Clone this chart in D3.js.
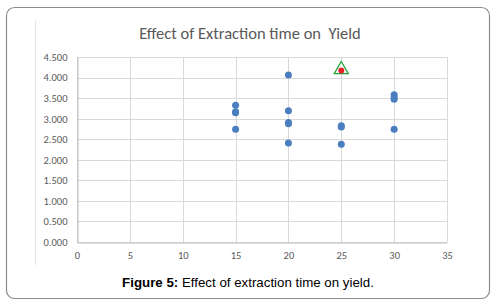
<!DOCTYPE html>
<html>
<head>
<meta charset="utf-8">
<script src="https://cdn.jsdelivr.net/npm/d3@7"></script>
<style>
  body { margin: 0; background: #fff; }
</style>
</head>
<body>
<svg id="drawing_region"></svg>
<script>
// extraction time (min) and yield readings
const times  = [15, 15, 15, 15, 20, 20, 20, 20, 20, 25, 25, 25, 30, 30, 30, 30];
const yields = [3.325, 3.17, 3.145, 2.74, 4.06, 3.19, 2.905, 2.875, 2.41, 2.83, 2.795, 2.38, 3.58, 3.53, 3.47, 2.74];
// highlighted optimum point
const bestTime = [25];
const bestYield = [4.17];
const xTicks = [0, 5, 10, 15, 20, 25, 30, 35];
const yTicks = [0, 0.5, 1, 1.5, 2, 2.5, 3, 3.5, 4, 4.5];

const W = 495, H = 306;
const margin = {left: 77, right: 48, top: 57, bottom: 64};

const svg = d3.select('#drawing_region')
    .attr('width', W)
    .attr('height', H);

// outer frame
svg.append('rect')
    .attr('x', 6.5).attr('y', 7.5)
    .attr('width', 483).attr('height', 291)
    .attr('rx', 8)
    .attr('fill', 'white')
    .attr('stroke', '#8c8c8c')
    .attr('stroke-width', 1.2);

// faint chart-area edge
svg.append('line')
    .attr('x1', 35.5).attr('x2', 35.5)
    .attr('y1', 20).attr('y2', 265)
    .attr('stroke', '#e4e4e4');

const x = d3.scaleLinear().domain([0, 35]).range([margin.left, W - margin.right]);
const y = d3.scaleLinear().domain([0, 4.5]).range([H - margin.bottom, margin.top]);

const grid = svg.append('g');
grid.selectAll('.hg')
    .data(yTicks)
    .enter()
    .append('line')
    .attr('x1', x(0)).attr('x2', x(35))
    .attr('y1', d => Math.round(y(d)) + 0.5)
    .attr('y2', d => Math.round(y(d)) + 0.5)
    .attr('stroke', '#d9d9d9');
grid.selectAll('.vg')
    .data(xTicks)
    .enter()
    .append('line')
    .attr('x1', d => Math.round(x(d)) + 0.5)
    .attr('x2', d => Math.round(x(d)) + 0.5)
    .attr('y1', y(4.5)).attr('y2', y(0))
    .attr('stroke', '#d9d9d9');

// axes
const xAxis = d3.axisBottom(x).tickValues(xTicks).tickSize(0).tickPadding(9);
const yAxis = d3.axisLeft(y).tickValues(yTicks).tickSize(0).tickPadding(10)
    .tickFormat(d3.format('.3f'));

const gx = svg.append('g')
    .attr('transform', `translate(0, ${Math.round(y(0)) + 0.5})`)
    .call(xAxis);
const gy = svg.append('g')
    .attr('transform', `translate(${Math.round(x(0)) + 0.5}, 0)`)
    .call(yAxis);

[gx, gy].forEach(g => {
    g.select('.domain').attr('stroke', '#bfbfbf');
    g.selectAll('text')
        .attr('fill', '#595959')
        .style('font-family', 'Carlito, Calibri, "Open Sans", sans-serif')
        .style('font-size', '10.5px');
});

// points
svg.selectAll('.pt')
    .data(times.map((t, i) => ({t: t, v: yields[i]})))
    .enter()
    .append('circle')
    .attr('cx', d => x(d.t))
    .attr('cy', d => y(d.v))
    .attr('r', 3.5)
    .attr('fill', '#4a7ebf');

// highlighted point with triangle marker
const best = bestTime.map((t, i) => ({t: t, v: bestYield[i]}));
svg.selectAll('.tri')
    .data(best)
    .enter()
    .append('path')
    .attr('d', d3.symbol().type(d3.symbolTriangle).size(85))
    .attr('transform', d => `translate(${x(d.t)}, ${y(d.v) - 1})`)
    .attr('fill', 'white')
    .attr('stroke', '#22a33a')
    .attr('stroke-width', 1.3);
svg.selectAll('.best')
    .data(best)
    .enter()
    .append('circle')
    .attr('cx', d => x(d.t))
    .attr('cy', d => y(d.v))
    .attr('r', 3)
    .attr('fill', '#e8212b');

// title
svg.append('text')
    .attr('x', 250).attr('y', 38.5)
    .attr('text-anchor', 'middle')
    .attr('fill', '#595959')
    .style('font-family', 'Carlito, Calibri, "Open Sans", sans-serif')
    .style('font-size', '16.5px')
    .style('white-space', 'pre')
    .text('Effect of Extraction time on  Yield');

// caption
const cap = svg.append('text')
    .attr('x', 248).attr('y', 286.5)
    .attr('text-anchor', 'middle')
    .attr('fill', '#000')
    .style('font-family', '"Liberation Sans", Arial, sans-serif')
    .style('font-size', '13.3px');
cap.append('tspan').attr('font-weight', 'bold').text('Figure 5:');
cap.append('tspan').text(' Effect of extraction time on yield.');
</script>
</body>
</html>
